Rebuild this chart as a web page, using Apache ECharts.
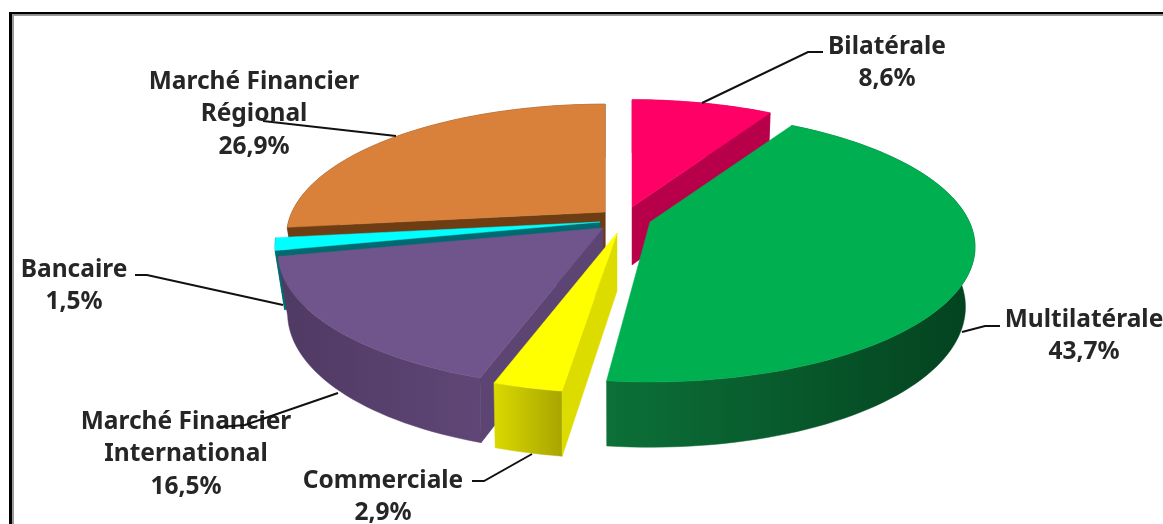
<!DOCTYPE html>
<html>
<head>
<meta charset="utf-8">
<style>html,body{margin:0;padding:0;background:#fff}#c{width:1163px;height:524px}</style>
<script src="https://cdn.jsdelivr.net/npm/echarts@6/dist/echarts.min.js"></script>
</head>
<body>
<div id="c"></div>
<script>
// Data, clockwise from 12 o'clock
const categories = ['Bilatérale', 'Multilatérale', 'Commerciale', 'Marché Financier\nInternational', 'Bancaire', 'Marché Financier\nRégional'];
const shares = [8.6, 43.7, 2.9, 16.5, 1.5, 26.9];

// Styling and layout (per slice, same order)
const topColors = ['#ff0066', '#00b050', '#ffff00', '#70558c', '#00ffff', '#d9813b'];
const cutColors = ['#b8004a', '#0a6a35', '#dcdc00', '#5c4473', '#006a70', '#6e3d14'];
const wallStops = [
  ['#b8004a', '#b8004a'], ['#0c7038', '#03421f'], ['#dada00', '#a8a400'],
  ['#4f3a63', '#5f4676'], ['#006a70', '#006a70'], ['#6e3d14', '#6e3d14']
];
const apexes = [[632, 207], [650, 222], [617, 233], [603, 228], [600, 222], [605, 212]];
const radiusScale = [0.975, 1, 1, 1, 1, 0.98];
const endInset = [0, 0.03, 0, 0, 0, 0]; // perspective nudge of a slice's closing edge, radians
const paintOrder = [5, 0, 4, 3, 1, 2];
const labelCenters = [[887, 47], [1084, 320], [383, 481], [186, 422], [74, 270], [254, 82]];
const leaders = [
  [[702, 103], [808, 52], [823, 52]],
  [[962, 332], [985, 326], [1000, 326]],
  [[532, 454], [484, 481], [472, 481]],
  [[338, 393], [245, 425], [220, 427]],
  [[283, 305], [147, 275], [135, 275]],
  [[396, 136], [263, 121]]
];
const A = 319.4, B = 130.4, K = 0.185, DEPTH = 58, BOTTOM_X = 0.03, BOTTOM_Y = 1.045, LINE_H = 32.5;

const total = shares.reduce((a, b) => a + b, 0);
function startAngle(i) {
  let s = 0;
  for (let j = 0; j < i; j++) s += shares[j];
  return s / total * Math.PI * 2;
}
function project(apex, scale, theta, bottom) {
  const u = Math.sin(theta), v = -Math.cos(theta), w = 1 - K * v;
  const sx = scale * (bottom ? 1 - BOTTOM_X * Math.abs(u) : 1), sy = scale * (bottom ? BOTTOM_Y : 1);
  return [apex[0] + sx * A * u / w, apex[1] + (bottom ? DEPTH : 0) + sy * B * v / w];
}
function side(a, b, p) {
  return (b[0] - a[0]) * (p[1] - a[1]) - (b[1] - a[1]) * (p[0] - a[0]);
}
function renderItem(params, api) {
  const i = api.value(0);
  const a0 = startAngle(i), a1 = a0 + api.value(1) / total * Math.PI * 2 - endInset[i];
  const apex = apexes[i], sc = radiusScale[i];
  const n = Math.max(2, Math.ceil((a1 - a0) / 0.03));
  const topArc = [], botArc = [];
  for (let k = 0; k <= n; k++) {
    const t = a0 + (a1 - a0) * k / n;
    topArc.push(project(apex, sc, t, false));
    botArc.push(project(apex, sc, t, true));
  }
  const mid = project(apex, sc, (a0 + a1) / 2, false);
  const apexBottom = [apex[0], apex[1] + DEPTH];
  const order = paintOrder.indexOf(i);
  const children = [];
  const poly = (points, fill) => children.push({
    type: 'polygon', shape: { points }, style: { fill, stroke: fill, lineWidth: 0.5 }, z2: order
  });
  poly(topArc.concat(botArc.slice().reverse()), new echarts.graphic.LinearGradient(0, 0, 1, 0, [
    { offset: 0, color: wallStops[i][0] },
    { offset: 1, color: wallStops[i][1] }
  ]));
  [[topArc[0], botArc[0]], [topArc[n], botArc[n]]].forEach(([pt, pb]) => {
    if (side(apex, pt, mid) * side(apex, pt, apexBottom) < 0) {
      poly([apex, pt, pb, apexBottom], cutColors[i]);
    }
  });
  poly([apex].concat(topArc), topColors[i]);
  return { type: 'group', children };
}

const font = { fontFamily: '"Noto Sans"', fontWeight: 'bold', fontSize: 24.5 };
const textEls = [];
categories.forEach((name, i) => {
  const lines = name.split('\n').concat([shares[i].toFixed(1).replace('.', ',') + '%']);
  lines.forEach((line, l) => textEls.push({
    type: 'text', x: labelCenters[i][0], y: labelCenters[i][1] + l * LINE_H, z: 5, silent: true,
    style: Object.assign({ text: line, fill: '#262626', align: 'center', verticalAlign: 'middle' }, font)
  }));
});
const lineEls = leaders.map(points => ({
  type: 'polyline', z: 6, silent: true, shape: { points },
  style: { stroke: '#111', lineWidth: 2, fill: null }
}));
const frame = [
  { type: 'rect', z: 7, shape: { x: 9, y: 12, width: 1154, height: 2.5 }, style: { fill: '#000' } },
  { type: 'rect', z: 7, shape: { x: 12, y: 14.5, width: 1151, height: 1.5 }, style: { fill: '#9a9a9a' } },
  { type: 'rect', z: 7, shape: { x: 9, y: 12, width: 3, height: 512 }, style: { fill: '#000' } },
  { type: 'rect', z: 7, shape: { x: 12, y: 14.5, width: 2, height: 510 }, style: { fill: '#9a9a9a' } }
];

const chart = echarts.init(document.getElementById('c'), null, { renderer: 'canvas' });
chart.setOption({
  animation: false,
  backgroundColor: '#fff',
  graphic: { elements: frame.concat(textEls, lineEls) },
  series: [{
    type: 'custom',
    coordinateSystem: 'none',
    silent: true,
    renderItem,
    data: paintOrder.map(i => [i, shares[i]])
  }]
});
</script>
</body>
</html>
